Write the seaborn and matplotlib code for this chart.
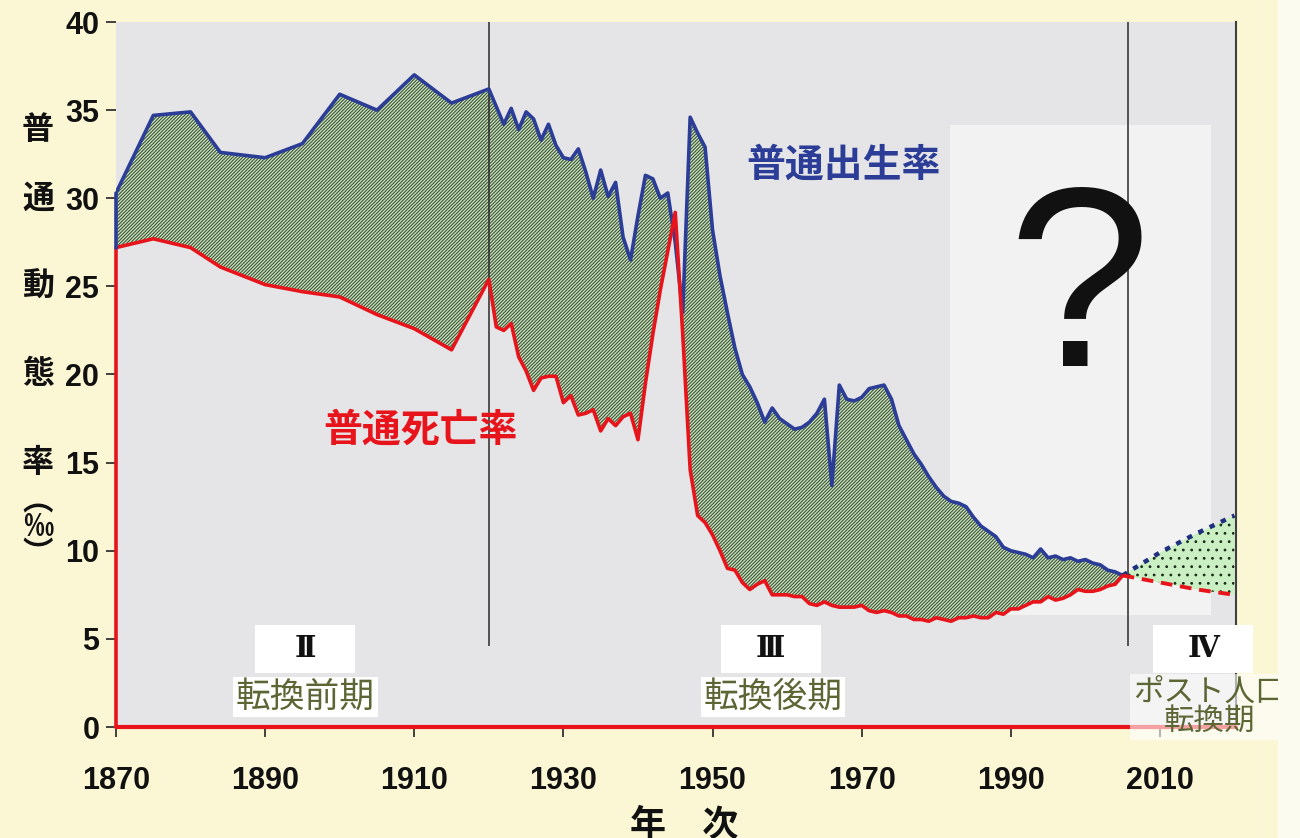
import numpy as np
import pandas as pd
import matplotlib
matplotlib.use("Agg")
import matplotlib.pyplot as plt
import seaborn as sns
from matplotlib.patches import Rectangle

# ---------------- data ----------------
years = [1870, 1875, 1880, 1884, 1890, 1895, 1900, 1905, 1910, 1915,
         1920, 1921, 1922, 1923, 1924, 1925, 1926, 1927, 1928, 1929,
         1930, 1931, 1932, 1933, 1934, 1935, 1936, 1937, 1938, 1939,
         1940, 1941, 1942, 1943, 1944, 1945, 1946, 1947, 1948, 1949,
         1950, 1951, 1952, 1953, 1954, 1955, 1956, 1957, 1958, 1959,
         1960, 1961, 1962, 1963, 1964, 1965, 1966, 1967, 1968, 1969,
         1970, 1971, 1972, 1973, 1974, 1975, 1976, 1977, 1978, 1979,
         1980, 1981, 1982, 1983, 1984, 1985, 1986, 1987, 1988, 1989,
         1990, 1991, 1992, 1993, 1994, 1995, 1996, 1997, 1998, 1999,
         2000, 2001, 2002, 2003, 2004, 2005]

birth = [30.3, 34.7, 34.9, 32.6, 32.3, 33.1, 35.9, 35.0, 37.0, 35.4,
         36.2, 35.2, 34.2, 35.1, 33.9, 34.9, 34.5, 33.3, 34.2, 33.0,
         32.3, 32.2, 32.8, 31.5, 30.0, 31.6, 30.1, 30.9, 27.8, 26.5,
         29.0, 31.3, 31.1, 30.0, 30.3, 27.5, 23.5, 34.6, 33.7, 32.9,
         28.2, 25.6, 23.5, 21.5, 20.0, 19.3, 18.4, 17.3, 18.1, 17.5,
         17.2, 16.9, 17.0, 17.3, 17.8, 18.6, 13.7, 19.4, 18.6, 18.5,
         18.7, 19.2, 19.3, 19.4, 18.6, 17.1, 16.3, 15.5, 14.9, 14.2,
         13.6, 13.1, 12.8, 12.7, 12.5, 11.9, 11.4, 11.1, 10.8, 10.2,
         10.0, 9.9, 9.8, 9.6, 10.1, 9.6, 9.7, 9.5, 9.6, 9.4,
         9.5, 9.3, 9.2, 8.9, 8.8, 8.6]

death = [27.2, 27.7, 27.2, 26.1, 25.1, 24.7, 24.4, 23.4, 22.6, 21.4,
         25.4, 22.7, 22.5, 22.9, 21.0, 20.2, 19.1, 19.8, 19.9, 19.9,
         18.4, 18.8, 17.7, 17.8, 18.0, 16.8, 17.5, 17.1, 17.6, 17.8,
         16.3, 19.5, 22.3, 24.8, 27.0, 29.2, 22.3, 14.6, 12.0, 11.6,
         10.9, 10.0, 9.0, 8.9, 8.2, 7.8, 8.1, 8.3, 7.5, 7.5,
         7.5, 7.4, 7.4, 7.0, 6.9, 7.1, 6.9, 6.8, 6.8, 6.8,
         6.9, 6.6, 6.5, 6.6, 6.5, 6.3, 6.3, 6.1, 6.1, 6.0,
         6.2, 6.1, 6.0, 6.2, 6.2, 6.3, 6.2, 6.2, 6.5, 6.4,
         6.7, 6.7, 6.9, 7.1, 7.1, 7.4, 7.2, 7.3, 7.5, 7.8,
         7.7, 7.7, 7.8, 8.0, 8.1, 8.6]

proj_years = [2005, 2010, 2015, 2020]
proj_birth = [8.6, 9.9, 11.0, 12.0]
proj_death = [8.6, 8.2, 7.8, 7.5]

x_ticks = [1870, 1890, 1910, 1930, 1950, 1970, 1990, 2010]
y_ticks = [0, 5, 10, 15, 20, 25, 30, 35, 40]
divider_years = [1920, 2005.7]

stage_numerals = ["Ⅱ", "Ⅲ", "Ⅳ"]
stage_names = ["転換前期", "転換後期", "ポスト人口\n転換期"]
birth_label = "普通出生率"
death_label = "普通死亡率"
y_label_main = ["普", "通", "動", "態", "率"]
y_label_unit = "︵\n‰\n︶"
x_label = "年　次"
question = "?"

# ---------------- style ----------------
sns.set_theme(style="white")
plt.rcParams["font.family"] = ["Liberation Sans", "Noto Sans CJK JP", "DejaVu Sans"]
plt.rcParams["hatch.linewidth"] = 0.8

BLUE = "#2c3d98"
RED = "#e8141c"
OLIVE = "#5b6634"
CJK = ["Noto Sans CJK JP", "DejaVu Sans"]

W, H = 1300, 838
fig = plt.figure(figsize=(W / 100, H / 100), dpi=100, facecolor="#fbf6d4")
fig.patches.append(Rectangle((1278 / W, 0), 22 / W, 1, transform=fig.transFigure,
                             facecolor="#fcfbf0", edgecolor="none", zorder=0))
ax = fig.add_axes([116 / W, 1 - 727 / H, (1236 - 116) / W, (727 - 22) / H])
ax.set_facecolor("#e5e5e7")
XMAX = 2020.2
ax.set_xlim(1870, XMAX)
ax.set_ylim(0, 40)

# faded white panel behind the question mark
ax.add_patch(Rectangle((1981.9, 6.35), 35.0, 27.8, facecolor="white", alpha=0.5,
                       edgecolor="none", zorder=1))

# hatched gap between birth and death
ax.fill_between(years, death, birth, facecolor="#cbe8b6", edgecolor="#3e5042",
                hatch="/" * 10, linewidth=0, zorder=2)
# projected gap (dotted)
ax.fill_between(proj_years, proj_death, proj_birth, facecolor="#caefc2",
                edgecolor="#1c2a1c", hatch="..", linewidth=0, zorder=2)

df = pd.DataFrame({"year": years, "birth": birth, "death": death})
sns.lineplot(data=df, x="year", y="birth", color=BLUE, lw=2.6, ax=ax, zorder=5,
             estimator=None, sort=False)
sns.lineplot(data=df, x="year", y="death", color=RED, lw=2.6, ax=ax, zorder=5,
             estimator=None, sort=False)
ax.plot(proj_years, proj_birth, color="#1f2f80", lw=3.2, ls=(0, (1.2, 1.6)), zorder=5)
ax.plot(proj_years, proj_death, color=RED, lw=2.8, ls=(0, (3, 2)), zorder=5)

# area outlines at the left edge and along zero
ax.plot([years[0], years[0]], [0, death[0]], color=RED, lw=2.6, zorder=5, clip_on=False)
ax.plot([years[0], years[0]], [death[0], birth[0]], color=BLUE, lw=2.6, zorder=5, clip_on=False)
ax.plot([1870, XMAX], [0, 0], color=RED, lw=3.0, zorder=5, clip_on=False)

# stage dividers
ax.vlines(divider_years, 4.6, 40, color="#2a2a2a", lw=1.1, zorder=3)

# spines
for s in ["top", "left", "bottom"]:
    ax.spines[s].set_visible(False)
ax.spines["right"].set_visible(True)
ax.spines["right"].set_color("#404040")
ax.spines["right"].set_linewidth(1.5)

ax.set_xticks(x_ticks)
ax.set_yticks(y_ticks)
ax.tick_params(axis="x", bottom=True, direction="out", length=7, width=1.2,
               color="#222222", pad=21, labelsize=22)
ax.tick_params(axis="y", left=True, direction="out", length=7, width=1.2,
               color="#222222", pad=5, labelsize=22)
for lab in ax.get_xticklabels() + ax.get_yticklabels():
    lab.set_fontweight("bold")
    lab.set_color("#111111")
ax.set_xlabel("")
ax.set_ylabel("")
ax.grid(False)

# series labels
ax.text(1967.6, 31.9, birth_label, color=BLUE, fontsize=28, fontweight="bold",
        family=CJK, ha="center", va="center", zorder=6)
ax.text(1910.8, 16.85, death_label, color=RED, fontsize=28, fontweight="bold",
        family=CJK, ha="center", va="center", zorder=6)

# question mark
ax.text(1999.1, 20.5, question, fontsize=185, color="#111111", ha="center",
        va="baseline", family=["Liberation Sans"], zorder=6)

# stage labels
num_centers = [(1895.4, 4.43), (1957.8, 4.45), (2015.8, 4.43)]
for txt, (cx, cy) in zip(stage_numerals, num_centers):
    ax.add_patch(Rectangle((cx - 6.7, cy - 1.36), 13.4, 2.72, facecolor="white",
                           edgecolor="none", zorder=6, clip_on=False))
    ax.text(cx, cy, txt, fontsize=21, fontweight="bold", color="#111111",
            family=["DejaVu Serif", "Noto Sans CJK JP"], ha="center", va="center",
            zorder=7, clip_on=False)

ax.text(1895.4, 1.70, stage_names[0], fontsize=25, color=OLIVE, family=CJK,
        ha="center", va="center", zorder=7,
        bbox=dict(facecolor="white", edgecolor="none", pad=2))
ax.text(1958.1, 1.70, stage_names[1], fontsize=25, color=OLIVE, family=CJK,
        ha="center", va="center", zorder=7,
        bbox=dict(facecolor="white", edgecolor="none", pad=2))
ax.text(2016.6, 1.15, stage_names[2], fontsize=22, color=OLIVE, family=CJK,
        ha="center", va="center", multialignment="center", linespacing=0.95,
        zorder=7, clip_on=False,
        bbox=dict(facecolor="white", edgecolor="none", alpha=0.6, pad=2))

# y-axis label (vertical characters)
label_x = 38 / W
for ch, py in zip(y_label_main, [130, 199, 287, 374, 463]):
    fig.text(label_x, 1 - py / H, ch, fontsize=23, fontweight="bold", color="#111111",
             family=CJK, ha="center", va="center")
fig.text(label_x, 1 - 527 / H, y_label_unit, fontsize=22, fontweight="bold",
         color="#111111", family=CJK, ha="center", va="center",
         multialignment="center", linespacing=0.78)

# x-axis label
fig.text(684.5 / W, 1 - 825 / H, x_label, fontsize=26, fontweight="bold",
         color="#111111", family=CJK, ha="center", va="center")

fig.savefig("out.png", dpi=100, facecolor=fig.get_facecolor())
